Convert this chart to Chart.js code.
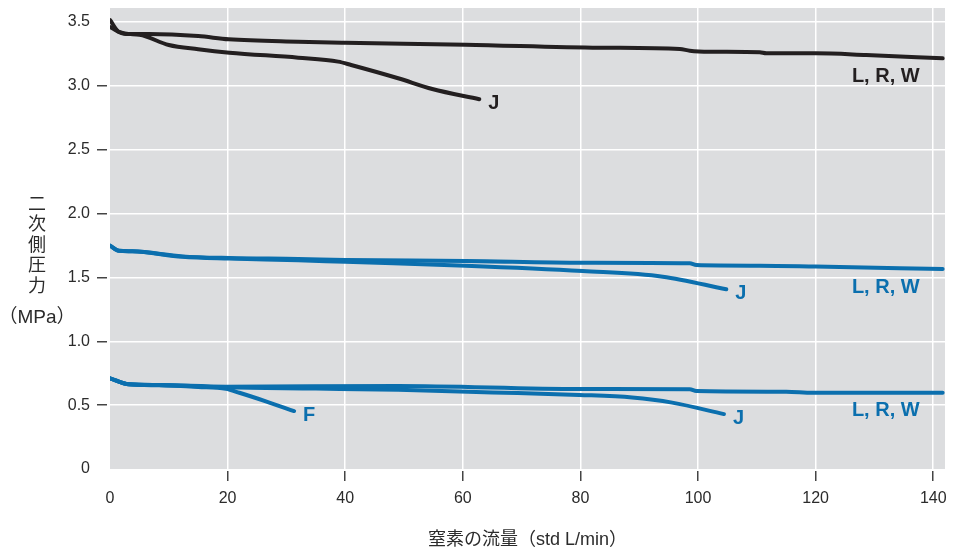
<!DOCTYPE html>
<html>
<head>
<meta charset="utf-8">
<script src="https://cdn.jsdelivr.net/npm/chart.js@4/dist/chart.umd.min.js"></script>
<style>
  body { margin: 0; background: #fff; }
  #wrap { width: 960px; height: 554px; position: relative; }
</style>
</head>
<body>
<div id="wrap"><canvas id="grafik"></canvas></div>
<script>
// axis ticks
var xTicks = [0, 20, 40, 60, 80, 100, 120, 140];
var yTicks = [0, 0.5, 1.0, 1.5, 2.0, 2.5, 3.0, 3.5];

// black curves (upper)
var blkLrwX = [0, 2.7, 6.6, 15, 20.2, 32, 40, 60.5, 83.3, 96.9, 98.6, 102, 110.5, 111.6, 120, 128.6, 141.6];
var blkLrwY = [3.46, 3.406, 3.406, 3.39, 3.365, 3.346, 3.338, 3.323, 3.299, 3.289, 3.276, 3.268, 3.263, 3.255, 3.255, 3.242, 3.216];
var blkJX = [0, 1.5, 5, 10, 15, 20.3, 32, 38.8, 41, 49, 54.8, 62.8];
var blkJY = [3.516, 3.424, 3.40, 3.32, 3.287, 3.26, 3.221, 3.19, 3.164, 3.06, 2.976, 2.896];

// blue curves (middle)
var midLrwX = [0, 1.5, 3.8, 12.3, 20.3, 32, 40, 60.5, 80.4, 98.6, 99.7, 110.5, 120, 141.6];
var midLrwY = [1.749, 1.709, 1.705, 1.665, 1.652, 1.645, 1.637, 1.629, 1.615, 1.611, 1.597, 1.592, 1.585, 1.566];
var midJX = [0, 1.5, 3.8, 12.3, 20.3, 32, 40, 60.5, 80.4, 94, 104.8];
var midJY = [1.749, 1.709, 1.705, 1.662, 1.648, 1.635, 1.622, 1.592, 1.55, 1.506, 1.407];

// blue curves (lower)
var lowLrwX = [0, 3.2, 8.3, 19.7, 49, 80, 98.6, 99.7, 115, 119.5, 141.6];
var lowLrwY = [0.71, 0.663, 0.658, 0.645, 0.65, 0.626, 0.624, 0.61, 0.605, 0.597, 0.597];
var lowJX = [0, 3.2, 8.3, 19.7, 35, 49, 65, 79.8, 88.8, 95.6, 104.4];
var lowJY = [0.71, 0.663, 0.658, 0.64, 0.63, 0.62, 0.60, 0.58, 0.56, 0.52, 0.43];
var lowFX = [0, 3.2, 8.3, 15, 19.7, 22, 26.5, 31.3];
var lowFY = [0.71, 0.663, 0.655, 0.642, 0.628, 0.597, 0.53, 0.454];

var BLACK = '#231f20';
var BLUE = '#0b6fae';
var TEXT = '#2b2b2b';

function pts(xs, ys) {
    return xs.map(function(x, i){ return {x: x, y: ys[i]}; });
}

function serie(xs, ys, color, tag) {
    return {
        data: pts(xs, ys),
        borderColor: color,
        borderWidth: 4,
        pointRadius: 0,
        cubicInterpolationMode: 'monotone',
        borderCapStyle: 'round',
        borderJoinStyle: 'round',
        tag: tag
    };
}

var bgPlugin = {
    id: 'plotBg',
    beforeDraw: function(chart){
        var a = chart.chartArea, c = chart.ctx;
        c.save();
        c.fillStyle = '#dcdddf';
        c.fillRect(a.left, a.top, a.right - a.left, a.bottom - a.top);
        c.restore();
    }
};

var tagPlugin = {
    id: 'tags',
    afterDatasetsDraw: function(chart){
        var c = chart.ctx;
        c.save();
        c.font = 'bold 20px "Liberation Sans", Arial, sans-serif';
        c.textBaseline = 'middle';
        chart.data.datasets.forEach(function(ds, i){
            var meta = chart.getDatasetMeta(i);
            var last = meta.data[meta.data.length - 1];
            c.fillStyle = ds.borderColor;
            if (ds.tag === 'L, R, W') {
                c.textAlign = 'right';
                c.fillText(ds.tag, last.x - 23, last.y + 18);
            } else {
                c.textAlign = 'left';
                c.fillText(ds.tag, last.x + 9, last.y + 4);
            }
        });
        c.restore();
    }
};

var yTitlePlugin = {
    id: 'yTitle',
    afterDraw: function(chart){
        var c = chart.ctx;
        var chars = ['二', '次', '側', '圧', '力'];
        c.save();
        c.fillStyle = TEXT;
        c.textAlign = 'center';
        c.textBaseline = 'middle';
        c.font = '18px "Noto Sans CJK JP", sans-serif';
        chars.forEach(function(ch, i){
            c.fillText(ch, 37, 203 + i * 20.5);
        });
        c.font = '19px "Liberation Sans", "Noto Sans CJK JP", sans-serif';
        c.fillText('（MPa）', 37, 318);
        c.restore();
    }
};

var ctx = document.getElementById('grafik');
var myChart = new Chart(ctx, {
    type: 'line',
    data: {
        datasets: [
            serie(blkLrwX, blkLrwY, BLACK, 'L, R, W'),
            serie(blkJX, blkJY, BLACK, 'J'),
            serie(midLrwX, midLrwY, BLUE, 'L, R, W'),
            serie(midJX, midJY, BLUE, 'J'),
            serie(lowLrwX, lowLrwY, BLUE, 'L, R, W'),
            serie(lowJX, lowJY, BLUE, 'J'),
            serie(lowFX, lowFY, BLUE, 'F')
        ]
    },
    options: {
        responsive: true,
        maintainAspectRatio: false,
        animation: false,
        layout: { padding: { top: 8, right: 15, bottom: 0, left: 0 } },
        plugins: {
            legend: { display: false },
            tooltip: { enabled: false }
        },
        scales: {
            x: {
                type: 'linear',
                min: 0,
                max: 142,
                afterBuildTicks: function(scale){
                    scale.ticks = xTicks.map(function(v){ return {value: v}; });
                },
                afterFit: function(scale){ scale.height = 85; },
                border: { display: false },
                grid: {
                    color: function(c){ return c.tick && c.tick.value === 0 ? 'rgba(0,0,0,0)' : '#ffffff'; },
                    lineWidth: 1.5,
                    tickLength: 12,
                    tickColor: function(c){ return c.tick && c.tick.value === 0 ? 'rgba(0,0,0,0)' : '#444'; },
                    tickWidth: 1.5,
                    tickBorderDash: [10, 2],
                    tickBorderDashOffset: 10
                },
                ticks: {
                    color: TEXT,
                    padding: 8,
                    maxRotation: 0,
                    font: { family: '"Liberation Sans", Arial, sans-serif', size: 16 }
                },
                title: {
                    display: true,
                    text: '窒素の流量（std L/min）',
                    color: TEXT,
                    padding: { top: 0, bottom: 3 },
                    font: { family: '"Liberation Sans", "Noto Sans CJK JP", sans-serif', size: 18 }
                }
            },
            y: {
                type: 'linear',
                min: 0,
                max: 3.61,
                afterBuildTicks: function(scale){
                    scale.ticks = yTicks.map(function(v){ return {value: v}; });
                },
                afterFit: function(scale){
                    scale.width = 110;
                    scale.paddingTop = 0;
                    scale.paddingBottom = 0;
                },
                border: { display: false },
                grid: {
                    color: function(c){ return c.tick && c.tick.value === 0 ? 'rgba(0,0,0,0)' : '#ffffff'; },
                    lineWidth: 1.5,
                    tickLength: 13,
                    tickColor: function(c){
                        var v = c.tick ? c.tick.value : 0;
                        return (v === 0 || v === 3.5) ? 'rgba(0,0,0,0)' : '#444';
                    },
                    tickWidth: 1.5,
                    tickBorderDash: [10, 3]
                },
                ticks: {
                    color: TEXT,
                    padding: 7,
                    font: { family: '"Liberation Sans", Arial, sans-serif', size: 16 },
                    callback: function(v){ return v === 0 ? '0' : Number(v).toFixed(1); }
                }
            }
        }
    },
    plugins: [bgPlugin, tagPlugin, yTitlePlugin]
});
</script>
</body>
</html>
